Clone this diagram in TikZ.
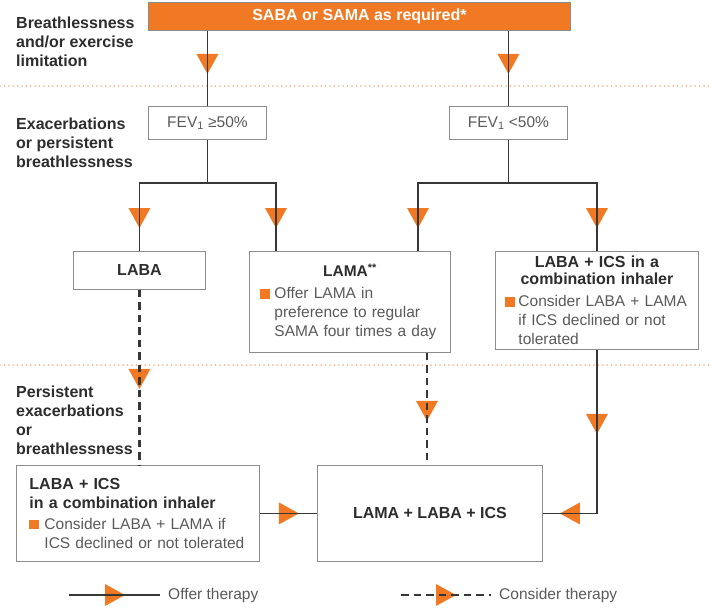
\documentclass[tikz,border=0pt]{standalone}
\usepackage{fontspec}
\setmainfont{Liberation Sans}
\usetikzlibrary{calc,decorations.markings,shadows}
\definecolor{nhsorange}{RGB}{241,121,36}
\definecolor{linegray}{RGB}{55,55,55}
\definecolor{boxgray}{RGB}{140,140,140}
\definecolor{textgray}{RGB}{90,90,90}
\definecolor{titlegray}{RGB}{45,45,45}
\newcommand{\sqbul}[1]{\makebox[#1][l]{\textcolor{nhsorange}{\rule{9.5pt}{9.5pt}}}}

\tikzset{
    box/.style={draw=boxgray, line width=0.9pt, fill=white, anchor=north west, inner sep=0pt,
        text=textgray, font=\fontsize{15.5}{19}\selectfont,
        drop shadow={shadow xshift=1pt, shadow yshift=-1pt, opacity=0.2}},
    boldbox/.style={box, text=titlegray, font=\bfseries\fontsize{16}{18}\selectfont},
    lab/.style={anchor=west, align=left, inner sep=0pt, text=titlegray,
        font=\bfseries\fontsize{16}{19}\selectfont},
    legtext/.style={anchor=west, inner xsep=8pt, inner ysep=0pt, text=textgray,
        font=\fontsize{15.5}{19}\selectfont},
    conn/.style={draw=linegray, line width=1.6pt},
    consider/.style={line width=2.1pt, dash pattern=on 7.5pt off 5pt},
    tri/.style={preaction={decorate, decoration={markings,
        mark=at position #1 with {\fill[nhsorange] (10,0) -- (-10,11) -- (-10,-11) -- cycle;}}}},
    sep/.style={draw=nhsorange!85, line width=1.5pt, line cap=round, dash pattern=on 0pt off 4.4pt}
}

\begin{document}
\begin{tikzpicture}[x=1pt, y=-1pt]
    \useasboundingbox (0,0) rectangle (711,614);

    % boxes
    \node[boxgray!80!black, boldbox, fill=nhsorange, text=white, minimum width=422, minimum height=28] (saba) at (148,2) {SABA or SAMA as required*};
    \node[box, minimum width=118, minimum height=33] (fevhi) at (148,106) {FEV\textsubscript{1} ≥50\%};
    \node[box, minimum width=118, minimum height=33] (fevlo) at (449,106) {FEV\textsubscript{1} <50\%};
    \node[boldbox, minimum width=132, minimum height=38] (laba) at (73,251) {LABA};
    \node[box, minimum width=201, minimum height=101, inner xsep=11pt, text width=179pt] (lama) at (249,251) {%
        {\centering\bfseries\color{titlegray}LAMA\textsuperscript{**}\par}\vspace{3pt}
        \noindent\hangindent14pt\hangafter1\sqbul{14pt}Offer LAMA in\newline preference to regular\newline SAMA four times a day\par};
    \node[box, minimum width=203, minimum height=98, inner xsep=10pt, text width=183pt] (labaics) at (495,251) {%
        {\centering\bfseries\fontsize{16}{17.5}\selectfont\color{titlegray}LABA + ICS in a\\combination inhaler\par}\vspace{3pt}
        \noindent\hangindent13pt\hangafter1\sqbul{13pt}Consider LABA + LAMA\newline if ICS declined or not\newline tolerated\par};
    \node[box, minimum width=243, minimum height=96, inner xsep=13pt, text width=217pt] (lici) at (16,465) {%
        {\bfseries\fontsize{16}{19}\selectfont\color{titlegray}LABA + ICS\newline in a combination inhaler\par}\vspace{2pt}
        \noindent\hangindent15pt\hangafter1\sqbul{15pt}Consider LABA + LAMA if\newline ICS declined or not tolerated\par};
    \node[boldbox, minimum width=225, minimum height=96] (triple) at (317,465) {LAMA + LABA + ICS};

    % row labels
    \node[lab] (lbreath) at (16,42) {Breathlessness\\and/or exercise\\limitation};
    \node[lab] (lexac) at (16,143) {Exacerbations\\or persistent\\breathlessness};
    \node[lab] (lpers) at (16,420) {Persistent\\exacerbations\\or\\breathlessness};

    % separators
    \draw[sep] (0,86) -- (711,86);
    \draw[sep] (0,365) -- (711,365);

    % helper points
    \coordinate (splithi) at ($(fevhi.south)+(0,43)$);
    \coordinate (splitlo) at ($(fevlo.south)+(0,43)$);
    \coordinate (lamain) at ($(lama.north west)+(27,0)$);
    \coordinate (lamaright) at ($(lama.north west)+(169,0)$);
    \coordinate (lamaout) at ($(lama.south west)+(178,0)$);

    % connectors
    \draw[conn, tri=33pt] (saba.south -| fevhi.north) -- (fevhi.north);
    \draw[conn, tri=33pt] (saba.south -| fevlo.north) -- (fevlo.north);
    \draw[conn] (fevhi.south) -- (splithi);
    \draw[conn, tri=-33pt] (splithi) -| (laba.north);
    \draw[conn, tri=-33pt] (splithi) -| (lamain);
    \draw[conn] (fevlo.south) -- (splitlo);
    \draw[conn, tri=-33pt] (splitlo) -| (lamaright);
    \draw[conn, tri=-33pt] (splitlo) -| (labaics.north);
    \draw[conn, consider, tri=89pt] (laba.south) -- (laba.south |- lici.north);
    \draw[conn, consider, tri=58pt] (lamaout) -- (lamaout |- triple.north);
    \draw[conn, tri=74pt, tri=-27pt] (labaics.south) |- (triple.east);
    \draw[conn, tri=29pt] (lici.east) -- (triple.west);

    % legend
    \coordinate (offa) at (69,595);
    \coordinate (consa) at (401,595);
    \node[legtext] (offertxt) at (160,595) {Offer therapy};
    \node[legtext] (considertxt) at (491,595) {Consider therapy};
    \draw[conn, tri=46pt] (offa) -- (offertxt.west);
    \draw[conn, consider, tri=45pt] (consa) -- (considertxt.west);
\end{tikzpicture}
\end{document}
